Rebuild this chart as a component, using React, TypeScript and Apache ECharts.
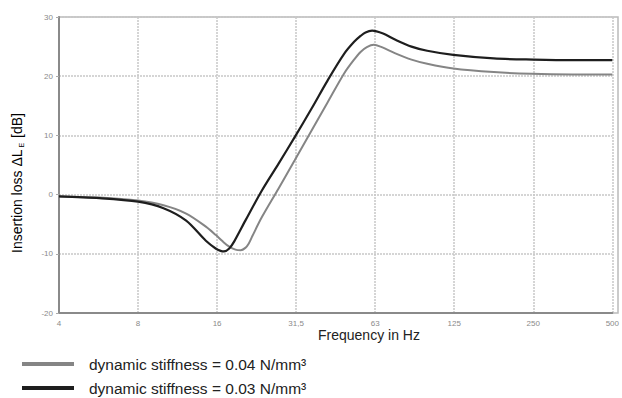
import React, { useEffect, useRef } from "react";
import * as echarts from "echarts";

const xTickLabels = ["4", "8", "16", "31,5", "63", "125", "250", "500"];
const yMin = -20;
const yMax = 30;

// dynamic stiffness = 0.04 N/mm³ (gray)
const freqGray = [4, 5.7, 8, 10, 12.2, 14.5, 15.8, 16.8, 17.8, 18.8, 19.7, 20.5, 21.1, 21.8, 23.7, 27.4, 31.6, 36.6, 42.2, 48.8, 53.2, 56.3, 59.5, 63.2, 67, 76, 88, 101, 127, 181, 252, 360, 512];
const valGray = [-0.3, -0.5, -1.0, -1.8, -3.2, -5.4, -6.8, -7.9, -8.8, -9.3, -9.4, -9.0, -8.3, -7.0, -3.8, 1.0, 5.8, 10.8, 15.6, 20.5, 22.8, 24.1, 24.9, 25.3, 25.0, 23.9, 22.8, 22.1, 21.3, 20.7, 20.4, 20.3, 20.3];

// dynamic stiffness = 0.03 N/mm³ (black)
const freqBlack = [4, 5.7, 8, 10, 12.2, 14.5, 15.8, 16.5, 17.0, 17.8, 18.6, 20.5, 23.7, 27.4, 31.6, 36.6, 42.2, 48.8, 53.2, 56.3, 58.8, 62.3, 68.6, 76.1, 88, 101, 127, 181, 256, 360, 512];
const valBlack = [-0.3, -0.6, -1.2, -2.3, -4.4, -7.8, -9.1, -9.5, -9.6, -9.1, -7.9, -4.4, 0.7, 5.2, 9.7, 14.5, 19.3, 23.8, 25.8, 26.8, 27.4, 27.7, 27.2, 26.2, 25.0, 24.3, 23.6, 23.0, 22.8, 22.7, 22.7];

const seriesNames = ["dynamic stiffness = 0.04 N/mm³", "dynamic stiffness = 0.03 N/mm³"];

const toPoints = (f: number[], v: number[]) => f.map((x, i) => [Math.log2(x / 4), v[i]]);

export default function App() {
  const ref = useRef<HTMLDivElement>(null);
  useEffect(() => {
    if (!ref.current) return;
    const chart = echarts.init(ref.current, undefined, { renderer: "svg" });
    const font = "Liberation Sans";
    chart.setOption({
      animation: false,
      textStyle: { fontFamily: font },
      grid: { left: 59, right: 4, top: 17, bottom: 85 },
      xAxis: {
        type: "value",
        min: 0,
        max: 7,
        interval: 1,
        axisLine: { show: true, onZero: false, lineStyle: { color: "#8a8a8a", width: 2 } },
        axisTick: { show: false },
        splitLine: { show: true, lineStyle: { color: "#c8c8c8", type: [2, 1], width: 1.5 } },
        axisLabel: {
          color: "#8a8a8a",
          fontSize: 8,
          margin: 6,
          formatter: (v: number) => xTickLabels[Math.round(v)] ?? "",
        },
      },
      yAxis: {
        type: "value",
        min: yMin,
        max: yMax,
        interval: 10,
        axisLine: { show: true, lineStyle: { color: "#8a8a8a", width: 2 } },
        axisTick: { show: true, length: 3, lineStyle: { color: "#aaa" } },
        splitLine: { show: true, lineStyle: { color: "#c8c8c8", type: [2, 1], width: 1.5 } },
        axisLabel: { color: "#8a8a8a", fontSize: 8, margin: 6 },
      },
      legend: {
        orient: "vertical",
        left: 22,
        top: 356,
        padding: 0,
        itemWidth: 52,
        itemHeight: 4,
        itemGap: 8,
        icon: "rect",
        textStyle: { fontSize: 15.5, color: "#222", fontFamily: font, padding: [0, 0, 0, 10], lineHeight: 16 },
        data: seriesNames,
      },
      graphic: [
        {
          type: "rect",
          shape: { x: 59, y: 17, width: 559, height: 296 },
          style: { fill: "none", stroke: "#bbbbbb", lineWidth: 1.5 },
          silent: true,
        },
        {
          type: "text",
          x: 17,
          y: 183,
          rotation: Math.PI / 2,
          style: {
            text: "{a|Insertion loss ΔL}{s|E}{a| [dB]}",
            align: "center",
            verticalAlign: "middle",
            rich: {
              a: { fontSize: 14, fontFamily: font, color: "#222" },
              s: { fontSize: 7, fontFamily: font, color: "#222", padding: [8, 1, 0, 2] },
            },
          },
        },
        {
          type: "text",
          left: 318,
          top: 328,
          style: { text: "Frequency in Hz", fontSize: 14, fontFamily: font, fill: "#222" },
        },
      ],
      series: [
        {
          name: seriesNames[0],
          type: "line",
          smooth: 0.3,
          showSymbol: false,
          color: "#858585",
          lineStyle: { width: 2, color: "#858585" },
          data: toPoints(freqGray, valGray),
        },
        {
          name: seriesNames[1],
          type: "line",
          smooth: 0.3,
          showSymbol: false,
          color: "#1e1e1e",
          lineStyle: { width: 2.2, color: "#1e1e1e" },
          data: toPoints(freqBlack, valBlack),
        },
      ],
    });
    return () => chart.dispose();
  }, []);
  return <div ref={ref} style={{ width: 622, height: 398, position: "absolute", left: 0, top: 0 }} />;
}
